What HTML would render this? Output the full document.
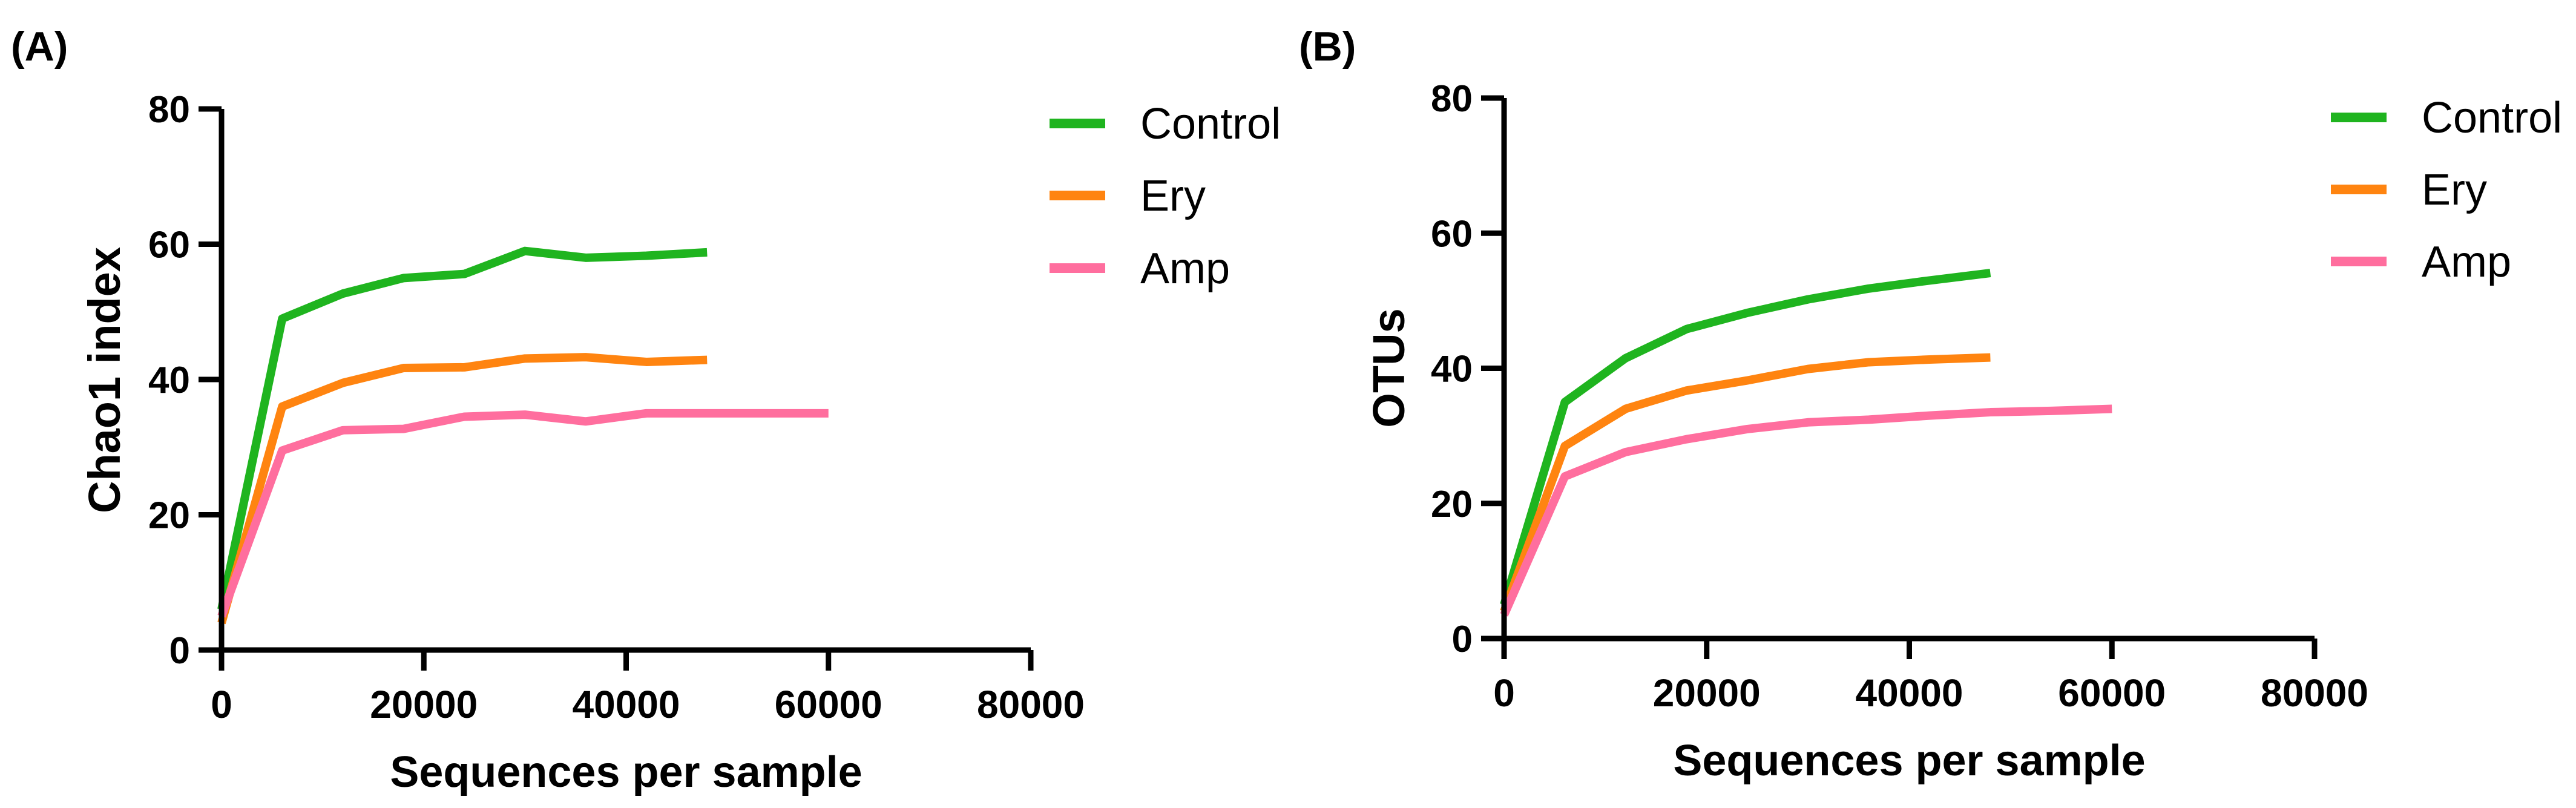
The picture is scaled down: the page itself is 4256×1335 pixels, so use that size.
<!DOCTYPE html>
<html><head><meta charset="utf-8"><style>
html,body{margin:0;padding:0;background:#fff;}
svg{display:block;}
text{font-family:"Liberation Sans",sans-serif;fill:#000;}
</style></head><body>
<svg id="fig" width="4256" height="1335" viewBox="0 0 4256 1335" xmlns="http://www.w3.org/2000/svg"></svg>
<script>
const xValues = [0,6000,12000,18000,24000,30000,36000,42000,48000,54000,60000];
const xTicks = [0,20000,40000,60000,80000];
const yTicks = [0,20,40,60,80];
const seriesNames = ["Control","Ery","Amp"];
const seriesColors = ["#1fb41f","#ff8410","#ff6e9e"];
const chaoControl = [6,49,52.7,55,55.6,59,58,58.3,58.8];
const chaoEry = [4,36,39.5,41.7,41.8,43.1,43.3,42.6,42.9];
const chaoAmp = [5,29.5,32.5,32.7,34.5,34.8,33.8,35,35,35,35];
const otuControl = [5,35,41.5,45.8,48.2,50.2,51.8,53,54.1];
const otuEry = [4,28.5,34,36.7,38.2,39.9,40.9,41.3,41.6];
const otuAmp = [3.5,24,27.6,29.5,31,32,32.4,33,33.5,33.7,34];

const svg = document.getElementById('fig');
const NS = 'http://www.w3.org/2000/svg';
function mk(tag, attrs, parent){
  const e = document.createElementNS(NS, tag);
  for (const k in attrs) e.setAttribute(k, attrs[k]);
  (parent||svg).appendChild(e);
  return e;
}
function panel(cfg){
  const g = mk('g', {});
  
  
  const sx = v => cfg.x0 + (v/80000)*(cfg.x1-cfg.x0);
  const sy = v => cfg.y0 - (v/80)*(cfg.y0-cfg.y1);
  const lbl = mk('text', {x:cfg.lx, y:100, 'font-size':68, 'font-weight':'bold'}, g);
  lbl.textContent = cfg.label;
  
  
  const series = [cfg.a, cfg.b, cfg.c];
  series.forEach((arr, i) => {
    const pts = arr.map((v, j) => sx(xValues[j]) + ',' + sy(v)).join(' ');
    const pl = mk('polyline', {points:pts, fill:'none', stroke:seriesColors[i], 'stroke-width':14, 'stroke-linejoin':'round'}, g);
    
    
  });
  const ax = mk('path', {d:`M${cfg.x0},${cfg.y1} V${cfg.y0} H${cfg.x1}`, fill:'none', stroke:'#000', 'stroke-width':9}, g);
  
  
  yTicks.forEach(t => {
    mk('line', {x1:cfg.x0-38, x2:cfg.x0, y1:sy(t), y2:sy(t), stroke:'#000', 'stroke-width':9}, g);
    const tx = mk('text', {x:cfg.x0-52, y:sy(t)+22, 'font-size':62, 'font-weight':'bold', 'text-anchor':'end'}, g);
    tx.textContent = t;
    
    
  });
  xTicks.forEach(t => {
    mk('line', {x1:sx(t), x2:sx(t), y1:cfg.y0, y2:cfg.y0+34, stroke:'#000', 'stroke-width':9}, g);
    const tx = mk('text', {x:sx(t), y:cfg.y0+112, 'font-size':64, 'font-weight':'bold', 'text-anchor':'middle'}, g);
    tx.textContent = t;
    
    
  });
  const xt = mk('text', {x:(cfg.x0+cfg.x1)/2, y:cfg.y0+226, 'font-size':72, 'font-weight':'bold', 'text-anchor':'middle'}, g);
  xt.textContent = 'Sequences per sample';
  
  
  const yc = cfg.ytc;
  const yt = mk('text', {x:cfg.ytx, y:yc, 'font-size':74, 'font-weight':'bold', 'text-anchor':'middle', transform:`rotate(-90 ${cfg.ytx} ${yc})`}, g);
  yt.textContent = cfg.ytitle;
  
  
  seriesNames.forEach((n, i) => {
    const ly = cfg.legY[i];
    const lg = mk('g', {}, g);
    
    
    mk('line', {x1:cfg.legX, x2:cfg.legX+92, y1:ly, y2:ly, stroke:seriesColors[i], 'stroke-width':16}, lg);
    const t = mk('text', {x:cfg.legX+150, y:ly+25, 'font-size':72}, lg);
    t.textContent = n;
  });
}
panel({id:'panel-a-chao1', label:'(A)', lx:18, x0:366, x1:1703, y0:1074, y1:180, a:chaoControl, b:chaoEry, c:chaoAmp,
  ytitle:'Chao1 index', ytx:198, ytc:628, legX:1734, legY:[204,323,443]});
panel({id:'panel-b-otus', label:'(B)', lx:2146, x0:2485, x1:3824, y0:1055, y1:162, a:otuControl, b:otuEry, c:otuAmp,
  ytitle:'OTUs', ytx:2320, ytc:608, legX:3851, legY:[194,313,432]});
</script>
</body></html>
